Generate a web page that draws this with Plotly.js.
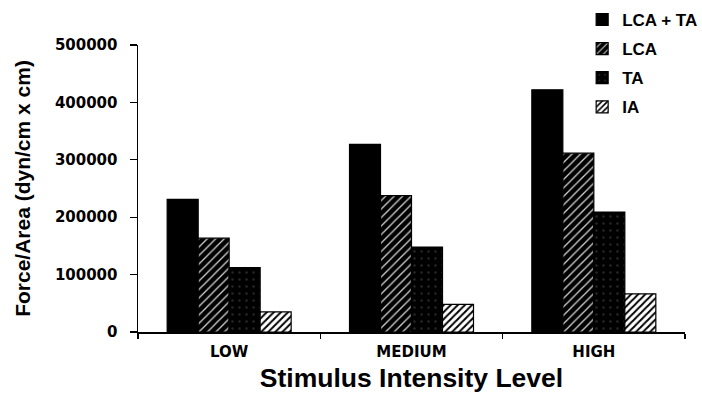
<!DOCTYPE html>
<html>
<head>
<meta charset="utf-8">
<script src="https://cdn.plot.ly/plotly-3.0.1.min.js"></script>
<style>html,body{margin:0;padding:0;background:#fff;}#chart{width:702px;height:393px;}</style>
</head>
<body>
<div id="chart"></div>
<script>
const categories = ["LOW", "MEDIUM", "HIGH"];
const seriesNames = ["LCA + TA", "LCA", "TA", "IA"];
const lcaTa = [231000, 327000, 422000];
const lca = [163500, 237500, 311500];
const ta = [112000, 148000, 209000];
const ia = [35000, 48000, 66500];
const yTicks = [0, 100000, 200000, 300000, 400000, 500000];

const line = {color: "#000", width: 1.2};
const traces = [
  {name: seriesNames[0], y: lcaTa, marker: {color: "#000", line: line}},
  {name: seriesNames[1], y: lca, marker: {color: "#000", line: line,
    pattern: {shape: "/", bgcolor: "#000", fgcolor: "#d0d0d0", size: 6, solidity: 0.22}}},
  {name: seriesNames[2], y: ta, marker: {color: "#000", line: line,
    pattern: {shape: ".", bgcolor: "#000", fgcolor: "#262626", size: 7, solidity: 0.1}}},
  {name: seriesNames[3], y: ia, marker: {color: "#fff", line: line,
    pattern: {shape: "/", bgcolor: "#fff", fgcolor: "#000", size: 5, solidity: 0.4}}}
].map((t, i) => Object.assign({type: "bar", x: categories, legendgroup: "g" + i, hoverinfo: "skip"}, t));

const layout = {
  width: 702, height: 393,
  margin: {l: 138, r: 17, t: 45, b: 61, autoexpand: false},
  paper_bgcolor: "#fff", plot_bgcolor: "#fff",
  barmode: "group", bargap: 0.32, bargroupgap: 0,
  showlegend: true,
  legend: {x: 0.812, xanchor: "left", y: 1.15, yanchor: "top",
    font: {family: "Liberation Sans, Arial, sans-serif", size: 17, color: "#000", weight: "bold"},
    tracegroupgap: 4, traceorder: "grouped", bgcolor: "rgba(0,0,0,0)"},
  xaxis: {
    type: "category", range: [-0.5, 2.5],
    showline: true, linecolor: "#000", linewidth: 1.5,
    ticks: "outside", tickson: "boundaries", ticklen: 5, tickcolor: "#000", tickwidth: 1.2,
    ticklabelstandoff: 5,
    showgrid: false, zeroline: false,
    tickfont: {family: "DejaVu Sans, sans-serif", size: 15, color: "#000", weight: "bold"},
    title: {text: "Stimulus Intensity Level", standoff: 10,
      font: {family: "Liberation Sans, Arial, sans-serif", size: 26.5, color: "#000", weight: "bold"}}
  },
  yaxis: {
    range: [0, 500000], tickvals: yTicks, tickformat: "d",
    showline: true, linecolor: "#000", linewidth: 1.5,
    ticks: "outside", ticklen: 7, tickcolor: "#000", tickwidth: 1.2,
    ticklabelstandoff: 9,
    showgrid: false, zeroline: false,
    tickfont: {family: "DejaVu Sans, sans-serif", size: 15, color: "#000", weight: "bold"},
    title: {text: "Force/Area (dyn/cm x cm)", standoff: 18,
      font: {family: "Liberation Sans, Arial, sans-serif", size: 21, color: "#000", weight: "bold"}}
  }
};

Plotly.newPlot("chart", traces, layout, {staticPlot: true, displayModeBar: false});
</script>
</body>
</html>
